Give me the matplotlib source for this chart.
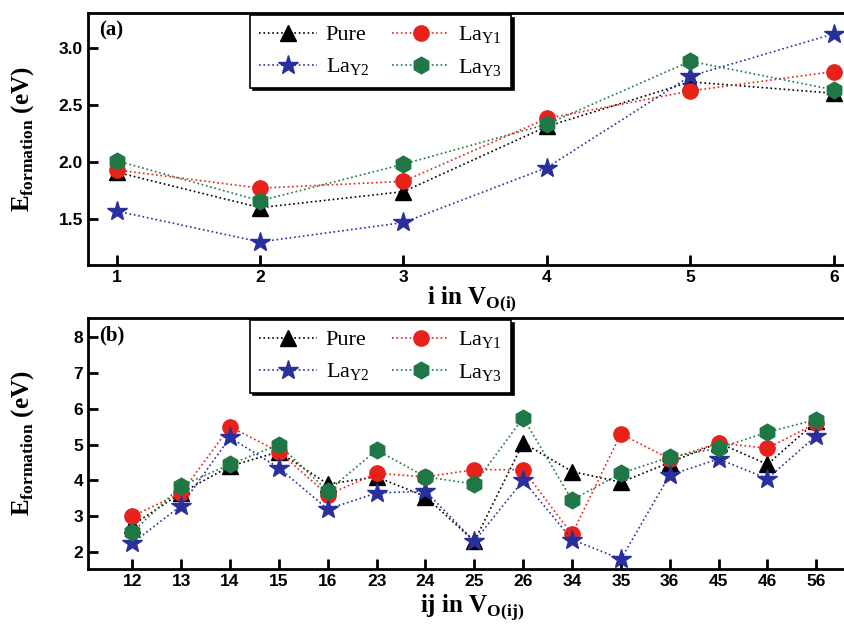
import matplotlib
matplotlib.use("Agg")
import matplotlib.pyplot as plt

# panel (a): single vacancy sites
sites_a = [1, 2, 3, 4, 5, 6]
pure_a = [1.91, 1.60, 1.74, 2.31, 2.70, 2.60]
lay1_a = [1.93, 1.77, 1.83, 2.38, 2.62, 2.79]
lay2_a = [1.57, 1.30, 1.47, 1.95, 2.75, 3.12]
lay3_a = [2.01, 1.66, 1.98, 2.33, 2.88, 2.63]

# panel (b): divacancy pairs
pairs_b = ["12", "13", "14", "15", "16", "23", "24", "25", "26", "34", "35", "36", "45", "46", "56"]
pure_b = [2.75, 3.65, 4.40, 4.80, 3.90, 4.10, 3.55, 2.30, 5.05, 4.25, 3.95, 4.50, 5.05, 4.45, 5.65]
lay1_b = [3.00, 3.65, 5.50, 4.80, 3.60, 4.20, 4.10, 4.30, 4.30, 2.50, 5.30, 4.60, 5.05, 4.90, 5.60]
lay2_b = [2.25, 3.30, 5.20, 4.35, 3.20, 3.65, 3.70, 2.30, 4.00, 2.35, 1.80, 4.15, 4.60, 4.05, 5.25]
lay3_b = [2.55, 3.85, 4.45, 5.00, 3.70, 4.85, 4.10, 3.90, 5.75, 3.45, 4.20, 4.65, 4.90, 5.35, 5.70]

names = ["Pure", r"La$_{\mathrm{Y1}}$", r"La$_{\mathrm{Y2}}$", r"La$_{\mathrm{Y3}}$"]
colors = ["black", "#e8211b", "#2a2f9e", "#1e7745"]
markers = ["^", "o", "*", "h"]
msizes = [11, 11, 15, 12]

serif = "Liberation Serif"
sans = "Liberation Sans"
plt.rcParams["mathtext.fontset"] = "custom"
plt.rcParams["mathtext.rm"] = serif
plt.rcParams["mathtext.bf"] = serif + ":bold"

fig = plt.figure(figsize=(8.45, 6.29), dpi=100)
ax1 = fig.add_axes([0.104, 0.579, 0.91, 0.400])
ax2 = fig.add_axes([0.104, 0.095, 0.91, 0.399])


def draw(ax, x, series, tag):
    lines = []
    for ys, c, m, s, n in zip(series, colors, markers, msizes, names):
        ln, = ax.plot(x, ys, linestyle=":", color=c, lw=1.2, marker=m, ms=s,
                      markerfacecolor=c, markeredgecolor=c, label=n)
        lines.append(ln)
    for side in ["left", "bottom", "top", "right"]:
        ax.spines[side].set_linewidth(2)
    ax.tick_params(direction="in", width=2, length=7, labelsize=12.5)
    ax.set_ylabel(r"E$_{\mathbf{formation}}$ (eV)", fontfamily=serif,
                  fontweight="bold", fontsize=18)
    ax.yaxis.set_label_coords(-0.068, 0.5)
    ax.text(0.015, 0.97, tag, transform=ax.transAxes, ha="left", va="top",
            fontfamily=serif, fontweight="bold", fontsize=15)
    order = [0, 2, 1, 3]
    leg = ax.legend([lines[i] for i in order], [names[i] for i in order],
                    ncol=2, loc="upper left", bbox_to_anchor=(0.208, 1.0),
                    borderaxespad=0.1, fancybox=False,
                    shadow={"color": "black", "alpha": 1},
                    edgecolor="black", handlelength=2.6, columnspacing=1.0,
                    handletextpad=0.4, prop={"family": serif, "size": 16},
                    framealpha=1, numpoints=1)
    leg.get_frame().set_linewidth(1.2)


draw(ax1, sites_a, [pure_a, lay1_a, lay2_a, lay3_a], "(a)")
ax1.set_xlim(0.80, 6.16)
ax1.set_ylim(1.10, 3.30)
ax1.set_xticks(sites_a)
ax1.set_yticks([1.5, 2.0, 2.5, 3.0])
ax1.set_xticklabels([str(s) for s in sites_a], fontfamily=sans, fontweight="bold")
ax1.set_yticklabels(["1.5", "2.0", "2.5", "3.0"], fontfamily=sans, fontweight="bold")
ax1.set_xlabel(r"i in V$_{\mathbf{O(i)}}$", fontfamily=serif, fontweight="bold",
               fontsize=18, labelpad=0)

idx = list(range(len(pairs_b)))
draw(ax2, idx, [pure_b, lay1_b, lay2_b, lay3_b], "(b)")
ax2.set_xlim(-0.91, 14.83)
ax2.set_ylim(1.52, 8.53)
ax2.set_xticks(idx)
ax2.set_xticklabels(pairs_b, fontfamily=sans, fontweight="bold")
ax2.set_yticks([2, 3, 4, 5, 6, 7, 8])
ax2.set_yticklabels([str(v) for v in range(2, 9)], fontfamily=sans, fontweight="bold")
ax2.set_xlabel(r"ij in V$_{\mathbf{O(ij)}}$", fontfamily=serif, fontweight="bold",
               fontsize=18, labelpad=2)

fig.savefig("out.png", dpi=100)
